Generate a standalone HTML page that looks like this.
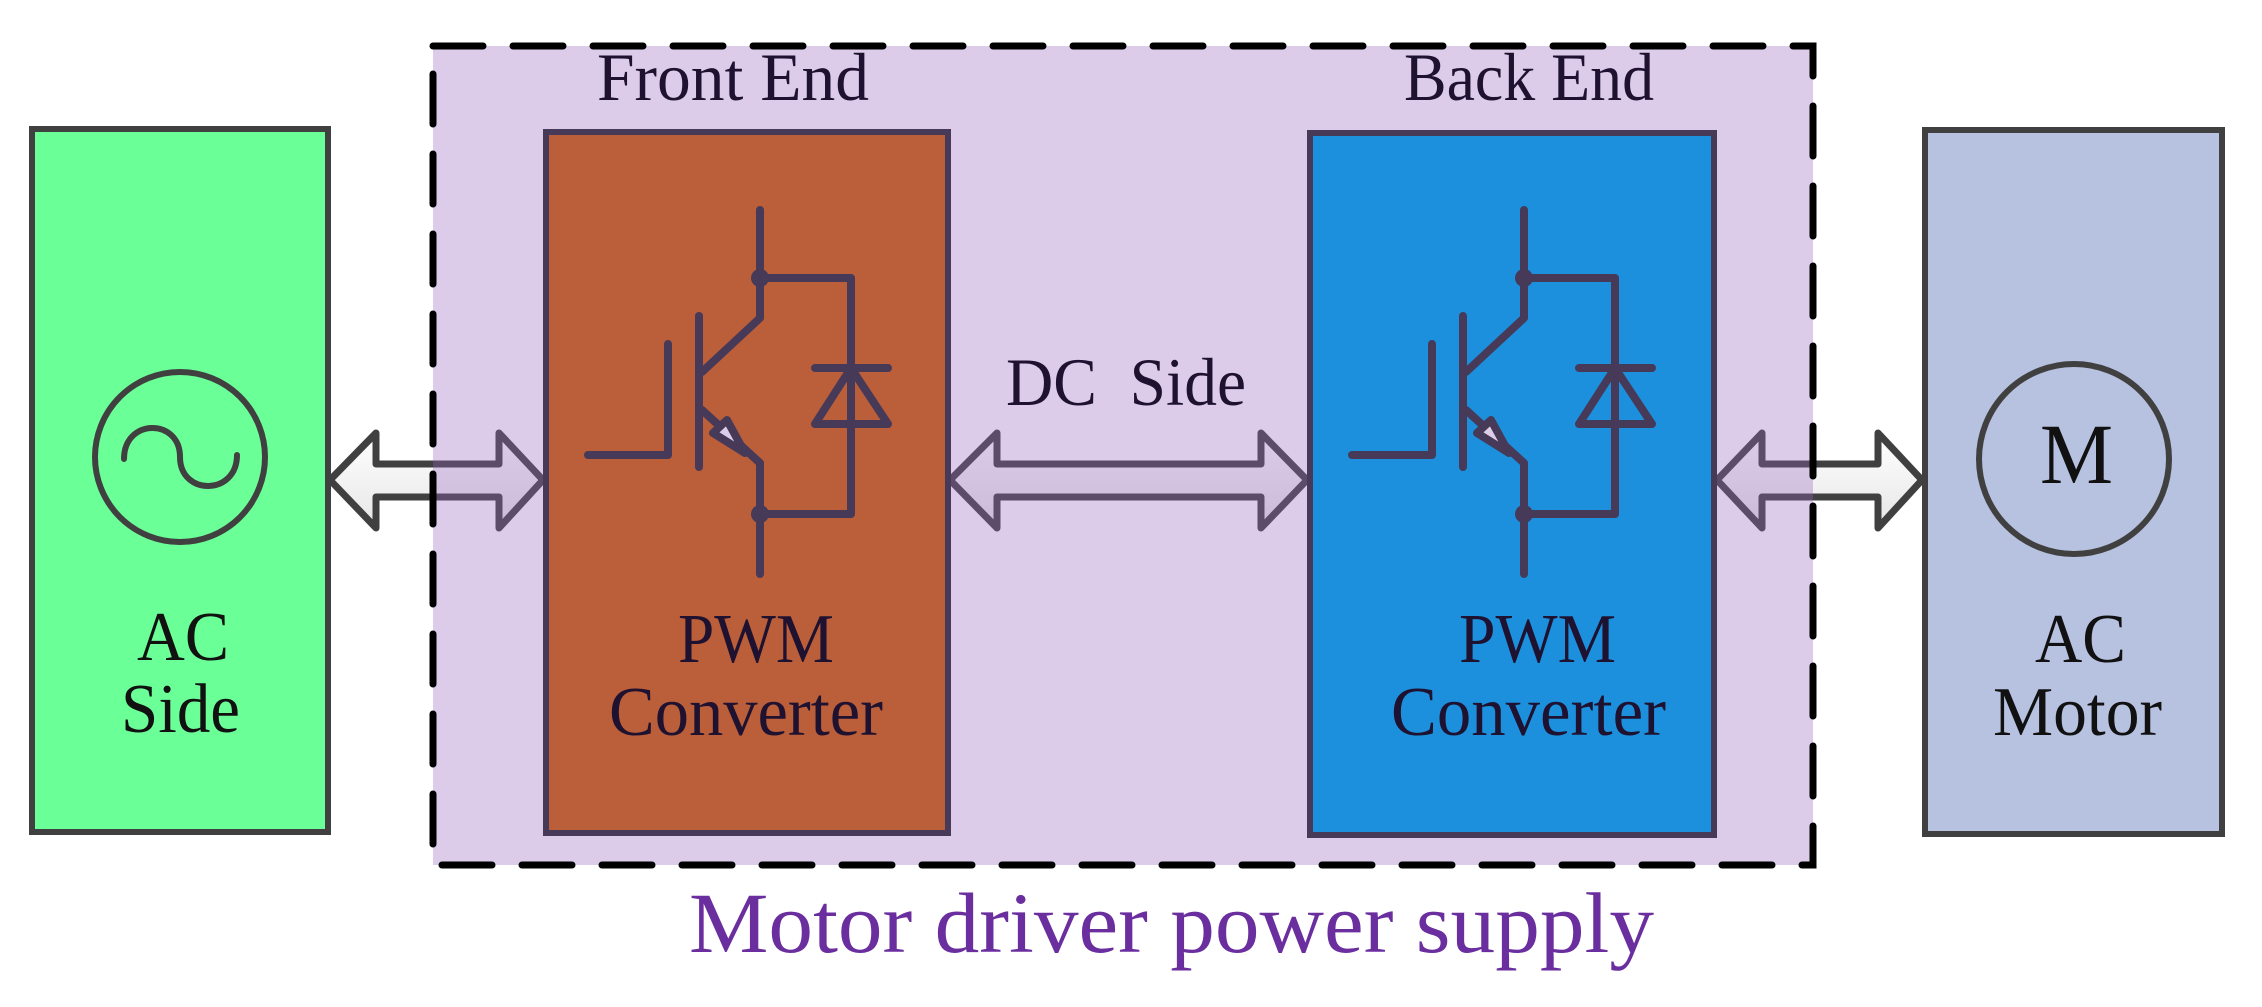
<!DOCTYPE html>
<html><head><meta charset="utf-8"><style>html,body{margin:0;padding:0;background:#fff}svg{display:block}</style></head><body>
<svg width="2262" height="1007" viewBox="0 0 2262 1007" xmlns="http://www.w3.org/2000/svg" font-family="'Liberation Serif', serif">
<defs>
<linearGradient id="g" x1="0" y1="0" x2="0" y2="1"><stop offset="0" stop-color="#ffffff"/><stop offset="1" stop-color="#e6e6e6"/></linearGradient>
<g id="igbt" fill="none" stroke="#463a58" stroke-width="8" stroke-linecap="round" stroke-linejoin="round">
<path d="M760,210 V318 L702,372"/>
<path d="M699,316 V467"/>
<path d="M588,455 H668 V344"/>
<path d="M702,410 L760,463 V574"/>
<path d="M760,278 H851 V514 H760"/>
<path d="M815,368 H888 M851,368 L815,424 H888 Z"/>
<polygon points="713,433 727,420 745,453" fill="#dccde8"/>
<circle cx="760" cy="278" r="9" fill="#463a58" stroke="none"/>
<circle cx="760" cy="514" r="9" fill="#463a58" stroke="none"/>
</g>
</defs>
<rect x="32" y="129" width="296" height="703" fill="#6bff97" stroke="#404040" stroke-width="6"/>
<circle cx="180" cy="457" r="85" fill="none" stroke="#404040" stroke-width="6"/>
<path d="M124,459 C124,418 180,418 180,457 C180,496 237,496 237,455" fill="none" stroke="#404040" stroke-width="6" stroke-linecap="round"/>
<text x="137" y="660" font-size="70" textLength="92" lengthAdjust="spacingAndGlyphs" fill="#111">AC</text>
<text x="121" y="732" font-size="70" textLength="119" lengthAdjust="spacingAndGlyphs" fill="#111">Side</text>
<rect x="1925" y="130" width="297" height="704" fill="#b7c1e0" stroke="#404040" stroke-width="6"/>
<circle cx="2074" cy="459" r="95" fill="none" stroke="#404040" stroke-width="6"/>
<text x="2040" y="483" font-size="86" textLength="73" lengthAdjust="spacingAndGlyphs" fill="#111">M</text>
<text x="2035" y="662" font-size="70" textLength="91" lengthAdjust="spacingAndGlyphs" fill="#111">AC</text>
<text x="1993" y="735" font-size="70" textLength="169" lengthAdjust="spacingAndGlyphs" fill="#111">Motor</text>
<g fill="url(#g)" stroke="#404040" stroke-width="7" stroke-linejoin="round">
<path d="M330,480 L376,433 V464 H499 V433 L543,480 L499,528 V497 H376 V528 Z"/>
<path d="M950,480 L997,433 V464 H1261 V433 L1307,480 L1261,528 V497 H997 V528 Z"/>
<path d="M1717,480 L1762,433 V464 H1878 V433 L1922,480 L1878,528 V497 H1762 V528 Z"/>
</g>
<rect x="433" y="46" width="1380" height="819" fill="rgb(150,100,190)" fill-opacity="0.33"/>
<rect x="546" y="132" width="402" height="701" fill="#bb5e3a" stroke="#463a58" stroke-width="6"/>
<rect x="1310" y="133" width="404" height="702" fill="#1c90dc" stroke="#463a58" stroke-width="6"/>
<use href="#igbt"/>
<use href="#igbt" transform="translate(764,0)"/>
<rect x="433" y="46" width="1380" height="819" fill="none" stroke="#000" stroke-width="7" stroke-dasharray="50 30" stroke-linecap="round"/>
<text x="597" y="100" font-size="68" textLength="272" lengthAdjust="spacingAndGlyphs" fill="#1e1230">Front End</text>
<text x="1404" y="100" font-size="68" textLength="250" lengthAdjust="spacingAndGlyphs" fill="#1e1230">Back End</text>
<text x="678" y="662" font-size="70" textLength="156" lengthAdjust="spacingAndGlyphs" fill="#1e1230">PWM</text>
<text x="609" y="735" font-size="70" textLength="274" lengthAdjust="spacingAndGlyphs" fill="#1e1230">Converter</text>
<text x="1459" y="662" font-size="70" textLength="157" lengthAdjust="spacingAndGlyphs" fill="#1e1230">PWM</text>
<text x="1391" y="735" font-size="70" textLength="275" lengthAdjust="spacingAndGlyphs" fill="#1e1230">Converter</text>
<text x="1006" y="405" font-size="68" textLength="240" lengthAdjust="spacingAndGlyphs" fill="#1e1230" xml:space="preserve">DC  Side</text>
<text x="689" y="952" font-size="86" textLength="965" lengthAdjust="spacingAndGlyphs" fill="#6a2e9e">Motor driver power supply</text>
</svg>
</body></html>
